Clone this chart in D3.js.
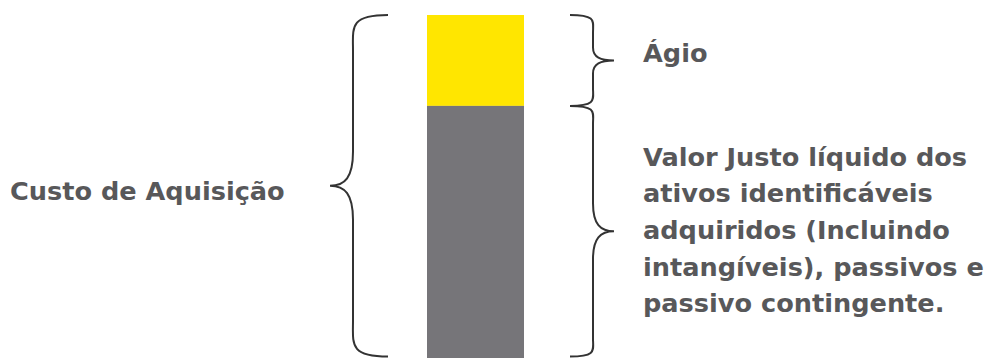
<!DOCTYPE html>
<html>
<head>
<meta charset="utf-8">
<script src="https://cdn.jsdelivr.net/npm/d3@7"></script>
<style>
  body { margin: 0; background: #fff; }
  text { font-family: "DejaVu Sans", Verdana, sans-serif; font-weight: bold; fill: #58585a; }
</style>
</head>
<body>
<div id="container"></div>
<script>
const segments = ['Ágio', 'Valor Justo'];
const segmentValues = [26.5, 73.5];
const totalLabel = 'Custo de Aquisição';
const segmentLabels = [
    ['Ágio'],
    ['Valor Justo líquido dos', 'ativos identificáveis', 'adquiridos (Incluindo', 'intangíveis), passivos e', 'passivo contingente.']
];
const segmentColors = ['#ffe600', '#767579'];

const w = 989;
const h = 358;

const svg = d3.select('#container').append('svg')
    .attr('width', w)
    .attr('height', h);

const total = d3.sum(segmentValues);

const yScale = d3.scaleLinear()
    .domain([0, total])
    .range([15, 358]);

const xScale = d3.scaleBand()
    .domain(['bar'])
    .range([427, 524]);

// stack from the top
let acc = 0;
const stacked = segmentValues.map((v, i) => {
    const d = { name: segments[i], y0: acc, y1: acc + v, color: segmentColors[i], lines: segmentLabels[i] };
    acc += v;
    return d;
});

svg.append('g')
    .selectAll('rect')
    .data(stacked)
    .join('rect')
    .attr('x', xScale('bar'))
    .attr('width', xScale.bandwidth())
    .attr('y', d => yScale(d.y0))
    .attr('height', d => yScale(d.y1) - yScale(d.y0))
    .attr('fill', d => d.color);

// curly brace: xe = end x, dir = -1 left / 1 right
const brace = (xe, y0, y1, dir, w1, w2, r1, r2) => {
    const p = d3.path();
    const xs = xe + dir * w1;
    const xt = xs + dir * w2;
    const ym = (y0 + y1) / 2;
    p.moveTo(xe, y0);
    p.bezierCurveTo(xs + dir * 4, y0, xs, y0 + r1 * 0.35, xs, y0 + r1);
    p.lineTo(xs, ym - r2);
    p.bezierCurveTo(xs, ym - r2 * 0.25, xs + dir * w2 * 0.35, ym, xt, ym);
    p.bezierCurveTo(xs + dir * w2 * 0.35, ym, xs, ym + r2 * 0.25, xs, ym + r2);
    p.lineTo(xs, y1 - r1);
    p.bezierCurveTo(xs, y1 - r1 * 0.35, xs + dir * 4, y1, xe, y1);
    return p.toString();
};

const braces = svg.append('g')
    .attr('fill', 'none')
    .attr('stroke', '#333')
    .attr('stroke-width', 2);

// left brace around whole bar
braces.append('path')
    .attr('d', brace(388, yScale(0), yScale(total) - 1.5, -1, 35, 23, 36, 34));

// right braces for each segment
braces.selectAll('path.seg')
    .data(stacked)
    .join('path')
    .attr('class', 'seg')
    .attr('d', (d, i) => {
        const a = yScale(d.y0);
        const b = i === stacked.length - 1 ? yScale(d.y1) - 1.5 : yScale(d.y1);
        const r1 = Math.min(18, (b - a) / 5);
        const r2 = Math.min(28, (b - a) / 7);
        return brace(570, a, b, 1, 23, 21, r1, r2);
    });

// labels
svg.append('text')
    .attr('x', 10)
    .attr('y', (yScale(0) + yScale(total)) / 2 + 13)
    .attr('font-size', 25.6)
    .text(totalLabel);

const lineH = 36.6;
stacked.forEach(d => {
    const ym = (yScale(d.y0) + yScale(d.y1)) / 2;
    const n = d.lines.length;
    const off = n === 1 ? 2 : 7;
    const t = svg.append('text')
        .attr('font-size', 25.6);
    d.lines.forEach((line, j) => {
        t.append('tspan')
            .attr('x', 643)
            .attr('y', ym + off + (j - (n - 1) / 2) * lineH)
            .text(line);
    });
});
</script>
</body>
</html>
